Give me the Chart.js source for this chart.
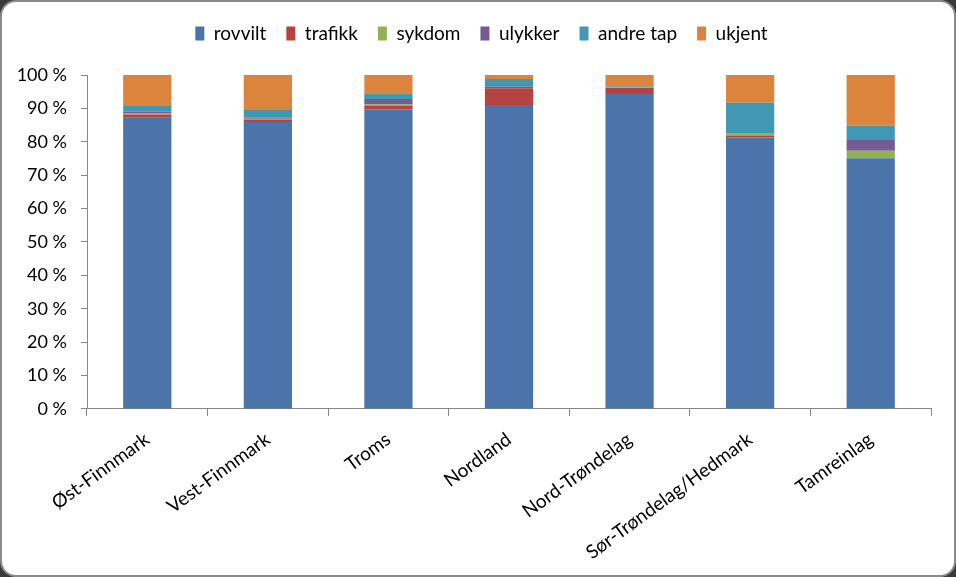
<!DOCTYPE html>
<html>
<head>
<meta charset="utf-8">
<script src="https://cdn.jsdelivr.net/npm/chart.js@4"></script>
<style>
  html, body { margin: 0; padding: 0; background: #3a3a3a; }
  #wrap {
    position: absolute; left: 0; top: 0;
    width: 952px; height: 573px;
    background: #fff;
    border: 2px solid #8a8a8a;
    border-radius: 16px;
    overflow: hidden;
  }
  #chart { position: absolute; left: -2px; top: -2px; }
</style>
</head>
<body>
<div id="wrap"><canvas id="chart" width="956" height="577"></canvas></div>
<script>
var regions = ['Øst-Finnmark', 'Vest-Finnmark', 'Troms', 'Nordland', 'Nord-Trøndelag', 'Sør-Trøndelag/Hedmark', 'Tamreinlag'];

// andel av tap i prosent
var rovvilt  = [87.2, 85.9, 89.7, 91.0, 94.3, 81.3, 75.1];
var trafikk  = [1.0, 0.8, 1.2, 5.0, 1.9, 0.6, 0.0];
var sykdom   = [0.3, 0.2, 0.3, 0.0, 0.1, 0.5, 2.2];
var ulykker  = [0.5, 0.3, 1.6, 0.5, 0.0, 0.0, 3.2];
var andreTap = [1.7, 2.3, 1.7, 2.3, 0.3, 9.3, 4.3];
var ukjent   = [9.3, 10.5, 5.5, 1.2, 3.4, 8.3, 15.2];

var yTicks = [0, 10, 20, 30, 40, 50, 60, 70, 80, 90, 100];

var font = "Lato, 'Liberation Sans', sans-serif";
Chart.defaults.font.family = font;
Chart.defaults.color = '#000';

function ds(label, data, color) {
    return {
        label: label,
        data: data,
        backgroundColor: color,
        borderWidth: 0,
        barPercentage: 0.4,
        categoryPercentage: 1.0
    };
}

// extra room under the legend, and nudge it a bit right
var legendTweak = {
    id: 'legendTweak',
    beforeInit: function (chart) {
        var fit = chart.legend.fit;
        chart.legend.fit = function () {
            fit.bind(chart.legend)();
            this.height += 22;
        };
    },
    afterLayout: function (chart) {
        chart.legend.left += 10;
        chart.legend.right += 10;
    }
};

var myChart = new Chart(document.getElementById('chart'), {
    type: 'bar',
    data: {
        labels: regions,
        datasets: [
            ds('rovvilt', rovvilt, '#4a74aa'),
            ds('trafikk', trafikk, '#b5433f'),
            ds('sykdom', sykdom, '#91b251'),
            ds('ulykker', ulykker, '#765a94'),
            ds('andre tap', andreTap, '#4098b2'),
            ds('ukjent', ukjent, '#dd843c')
        ]
    },
    plugins: [legendTweak],
    options: {
        responsive: false,
        animation: false,
        layout: { padding: { left: 12, right: 25, top: 4, bottom: 1 } },
        plugins: {
            tooltip: { enabled: false },
            legend: {
                position: 'top',
                labels: {
                    boxWidth: 9,
                    boxHeight: 14,
                    padding: 20,
                    font: { size: 19 }
                }
            }
        },
        scales: {
            x: {
                stacked: true,
                grid: {
                    offset: true,
                    drawOnChartArea: false,
                    color: '#888',
                    tickLength: 7
                },
                border: { color: '#888' },
                ticks: {
                    maxRotation: 36,
                    minRotation: 36,
                    font: { size: 19 },
                    padding: 12
                }
            },
            y: {
                stacked: true,
                min: 0,
                max: 100,
                afterBuildTicks: function (axis) {
                    axis.ticks = yTicks.map(function (v) { return { value: v }; });
                },
                afterFit: function (axis) {
                    axis.width = 75;
                },
                grid: {
                    drawOnChartArea: false,
                    color: '#888',
                    tickLength: 6
                },
                border: { color: '#888' },
                ticks: {
                    font: { size: 18 },
                    padding: 14,
                    callback: function (v) { return v + ' %'; }
                }
            }
        }
    }
});
</script>
</body>
</html>
